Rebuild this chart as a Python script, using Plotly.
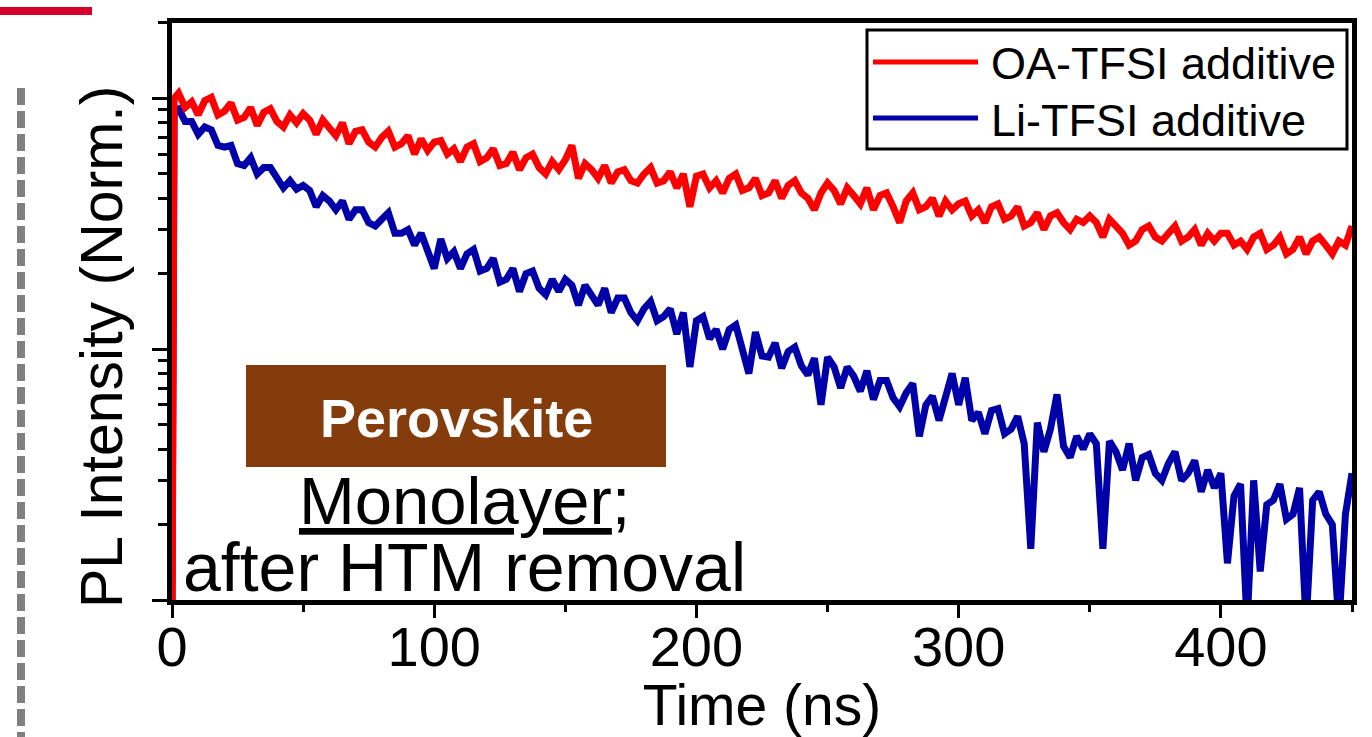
import plotly.graph_objects as go

# ---------------- data ----------------
time_ns = [0, 0.8,
    2.5, 5, 7.5, 10, 12.5, 15, 17.5, 20, 22.5, 25,
    27.5, 30, 32.5, 35, 37.5, 40, 42.5, 45, 47.5, 50,
    52.5, 55, 57.5, 60, 62.5, 65, 67.5, 70, 72.5, 75,
    77.5, 80, 82.5, 85, 87.5, 90, 92.5, 95, 97.5, 100,
    102.5, 105, 107.5, 110, 112.5, 115, 117.5, 120, 122.5, 125,
    127.5, 130, 132.5, 135, 137.5, 140, 142.5, 145, 147.5, 150,
    152.5, 155, 157.5, 160, 162.5, 165, 167.5, 170, 172.5, 175,
    177.5, 180, 182.5, 185, 187.5, 190, 192.5, 195, 197.5, 200,
    202.5, 205, 207.5, 210, 212.5, 215, 217.5, 220, 222.5, 225,
    227.5, 230, 232.5, 235, 237.5, 240, 242.5, 245, 247.5, 250,
    252.5, 255, 257.5, 260, 262.5, 265, 267.5, 270, 272.5, 275,
    277.5, 280, 282.5, 285, 287.5, 290, 292.5, 295, 297.5, 300,
    302.5, 305, 307.5, 310, 312.5, 315, 317.5, 320, 322.5, 325,
    327.5, 330, 332.5, 335, 337.5, 340, 342.5, 345, 347.5, 350,
    352.5, 355, 357.5, 360, 362.5, 365, 367.5, 370, 372.5, 375,
    377.5, 380, 382.5, 385, 387.5, 390, 392.5, 395, 397.5, 400,
    402.5, 405, 407.5, 410, 412.5, 415, 417.5, 420, 422.5, 425,
    427.5, 430, 432.5, 435, 437.5, 440, 442.5, 445, 447.5, 450]

oa_tfsi = [0.006, 1.00,
    1.05, 0.92, 0.97, 0.86, 0.98, 1.01, 0.86, 0.89, 0.96, 0.82,
    0.84, 0.92, 0.78, 0.88, 0.91, 0.81, 0.77, 0.86, 0.80, 0.87,
    0.82, 0.72, 0.82, 0.77, 0.71, 0.80, 0.66, 0.74, 0.75, 0.67,
    0.64, 0.70, 0.74, 0.64, 0.66, 0.71, 0.60, 0.69, 0.62, 0.67,
    0.68, 0.60, 0.63, 0.56, 0.64, 0.66, 0.56, 0.58, 0.63, 0.54,
    0.55, 0.61, 0.52, 0.58, 0.60, 0.53, 0.50, 0.56, 0.52, 0.57,
    0.65, 0.48, 0.55, 0.52, 0.48, 0.54, 0.46, 0.51, 0.52, 0.47,
    0.46, 0.50, 0.53, 0.46, 0.47, 0.51, 0.44, 0.50, 0.37, 0.49,
    0.50, 0.44, 0.47, 0.42, 0.48, 0.50, 0.43, 0.44, 0.48, 0.41,
    0.42, 0.47, 0.40, 0.45, 0.47, 0.42, 0.40, 0.36, 0.42, 0.46,
    0.43, 0.38, 0.44, 0.41, 0.38, 0.44, 0.36, 0.41, 0.42, 0.37,
    0.32, 0.39, 0.42, 0.36, 0.37, 0.40, 0.34, 0.39, 0.36, 0.38,
    0.39, 0.34, 0.36, 0.32, 0.37, 0.38, 0.33, 0.34, 0.37, 0.31,
    0.32, 0.35, 0.30, 0.34, 0.35, 0.32, 0.30, 0.33, 0.32, 0.34,
    0.32, 0.28, 0.33, 0.31, 0.29, 0.26, 0.27, 0.30, 0.31, 0.28,
    0.27, 0.29, 0.31, 0.27, 0.28, 0.30, 0.26, 0.29, 0.27, 0.29,
    0.29, 0.26, 0.27, 0.25, 0.28, 0.29, 0.25, 0.26, 0.28, 0.24,
    0.25, 0.28, 0.24, 0.27, 0.28, 0.26, 0.24, 0.27, 0.26, 0.31]

li_tfsi = [0.010, 0.90,
    0.91, 0.81, 0.81, 0.72, 0.77, 0.75, 0.65, 0.64, 0.65, 0.55,
    0.54, 0.58, 0.50, 0.53, 0.53, 0.475, 0.44, 0.47, 0.435, 0.45,
    0.43, 0.37, 0.41, 0.39, 0.36, 0.39, 0.33, 0.36, 0.36, 0.32,
    0.31, 0.33, 0.35, 0.29, 0.29, 0.30, 0.26, 0.29, 0.25, 0.21,
    0.275, 0.23, 0.245, 0.21, 0.24, 0.25, 0.205, 0.21, 0.23, 0.185,
    0.19, 0.21, 0.17, 0.20, 0.205, 0.175, 0.165, 0.19, 0.17, 0.19,
    0.18, 0.15, 0.18, 0.165, 0.15, 0.175, 0.14, 0.16, 0.16, 0.14,
    0.13, 0.145, 0.155, 0.13, 0.135, 0.145, 0.115, 0.14, 0.085, 0.13,
    0.135, 0.11, 0.12, 0.10, 0.12, 0.125, 0.10, 0.08, 0.117, 0.094,
    0.093, 0.106, 0.084, 0.098, 0.102, 0.086, 0.079, 0.092, 0.06, 0.093,
    0.085, 0.07, 0.085, 0.078, 0.068, 0.082, 0.063, 0.075, 0.075, 0.064,
    0.059, 0.067, 0.073, 0.045, 0.06, 0.065, 0.052, 0.063, 0.08, 0.06,
    0.077, 0.052, 0.056, 0.046, 0.057, 0.058, 0.046, 0.048, 0.054, 0.042,
    0.016, 0.051, 0.039, 0.048, 0.066, 0.041, 0.037, 0.045, 0.04, 0.046,
    0.042, 0.016, 0.043, 0.039, 0.033, 0.042, 0.03, 0.037, 0.038, 0.032,
    0.03, 0.035, 0.039, 0.03, 0.032, 0.036, 0.027, 0.033, 0.028, 0.032,
    0.014, 0.026, 0.029, 0.008, 0.03, 0.013, 0.024, 0.025, 0.029, 0.021,
    0.022, 0.028, 0.008, 0.025, 0.027, 0.022, 0.02, 0.008, 0.022, 0.032]

series_names = ["OA-TFSI additive", "Li-TFSI additive"]
series_colors = ["#FF0000", "#0000A8"]
x_tick_vals = [0, 100, 200, 300, 400]
x_minor_ticks = [50, 150, 250, 350, 450]
y_major_ticks = [0.01, 0.1, 1]
y_minor_ticks = [0.02, 0.03, 0.04, 0.05, 0.06, 0.07, 0.08, 0.09,
                 0.2, 0.3, 0.4, 0.5, 0.6, 0.7, 0.8, 0.9, 2]

FONT = "Liberation Sans, Arial, sans-serif"

# plot-area geometry in pixels (used to convert decoration positions)
L, R, T, B = 172, 1352, 23, 600
W, H = 1372, 737


def px(xp):
    return (xp - L) / (R - L)


def py(yp):
    return (B - yp) / (B - T)


fig = go.Figure()
fig.add_trace(go.Scatter(x=time_ns, y=li_tfsi, mode="lines", name=series_names[1],
                         line=dict(color=series_colors[1], width=7), showlegend=False))
fig.add_trace(go.Scatter(x=time_ns, y=oa_tfsi, mode="lines", name=series_names[0],
                         line=dict(color=series_colors[0], width=7), showlegend=False))

shapes = []
annotations = []

# legend (drawn manually so the long line samples match)
shapes.append(dict(type="rect", xref="paper", yref="paper",
                   x0=px(867), x1=px(1347), y0=py(149), y1=py(30),
                   line=dict(color="black", width=3), fillcolor="white", layer="above"))
for i, yy in enumerate([62, 118]):
    shapes.append(dict(type="line", xref="paper", yref="paper",
                       x0=px(873), x1=px(978), y0=py(yy), y1=py(yy),
                       line=dict(color=series_colors[i], width=5), layer="above"))
    annotations.append(dict(xref="paper", yref="paper", x=px(989), y=py(yy + 2),
                            xanchor="left", yanchor="middle", showarrow=False,
                            text=series_names[i],
                            font=dict(family=FONT, size=45, color="black")))

# y-axis title (placed as in the reference, slightly below the axis centre)
annotations.append(dict(xref="paper", yref="paper", x=px(102), y=py(347),
                        xanchor="center", yanchor="middle", showarrow=False,
                        textangle=-90, text="PL Intensity (Norm.)",
                        font=dict(family=FONT, size=59, color="black")))

# Perovskite label box
shapes.append(dict(type="rect", xref="paper", yref="paper",
                   x0=px(246), x1=px(666), y0=py(467), y1=py(365),
                   fillcolor="#843C0C", line=dict(width=0), layer="above"))
annotations.append(dict(xref="paper", yref="paper", x=px(456), y=py(418),
                        xanchor="center", yanchor="middle", showarrow=False,
                        text="<b>Perovskite</b>",
                        font=dict(family=FONT, size=54, color="white")))
annotations.append(dict(xref="paper", yref="paper", x=px(464), y=py(500),
                        xanchor="center", yanchor="middle", showarrow=False,
                        text="<u>Monolayer</u>;",
                        font=dict(family=FONT, size=67, color="black")))
annotations.append(dict(xref="paper", yref="paper", x=px(464), y=py(567),
                        xanchor="center", yanchor="middle", showarrow=False,
                        text="after HTM removal",
                        font=dict(family=FONT, size=68, color="black")))

# slide decorations outside the plot
shapes.append(dict(type="line", xref="paper", yref="paper",
                   x0=px(0), x1=px(92), y0=py(11), y1=py(11),
                   line=dict(color="#D5002B", width=8)))
shapes.append(dict(type="line", xref="paper", yref="paper",
                   x0=px(21), x1=px(21), y0=py(88), y1=py(737),
                   line=dict(color="#808080", width=8, dash="17px,6px")))

fig.update_layout(
    width=W, height=H,
    margin=dict(l=L, r=W - R, t=T, b=H - B, autoexpand=False),
    paper_bgcolor="white", plot_bgcolor="white",
    font=dict(family=FONT, color="black"),
    shapes=shapes, annotations=annotations,
    showlegend=False,
)

fig.update_xaxes(
    range=[0, 450], tickvals=x_tick_vals, ticks="outside", ticklen=13, tickwidth=3,
    tickcolor="black", showline=True, linewidth=5, linecolor="black", mirror=True,
    showgrid=False, zeroline=False, automargin=False, ticklabelstandoff=-19,
    tickfont=dict(family=FONT, size=56, color="black"),
    minor=dict(tickvals=x_minor_ticks, ticks="outside", ticklen=7,
               tickwidth=3, tickcolor="black", showgrid=False),
    title=dict(text="Time (ns)", font=dict(family=FONT, size=57, color="black"),
               standoff=11),
)
fig.update_yaxes(
    type="log", range=[-2, 0.301], tickvals=y_major_ticks, showticklabels=False,
    ticks="outside", ticklen=15, tickwidth=3, tickcolor="black",
    showline=True, linewidth=5, linecolor="black", mirror=True,
    showgrid=False, zeroline=False, automargin=False,
    minor=dict(tickvals=y_minor_ticks, ticks="outside", ticklen=9, tickwidth=3,
               tickcolor="black", showgrid=False),
)

fig.write_html("out.html")
